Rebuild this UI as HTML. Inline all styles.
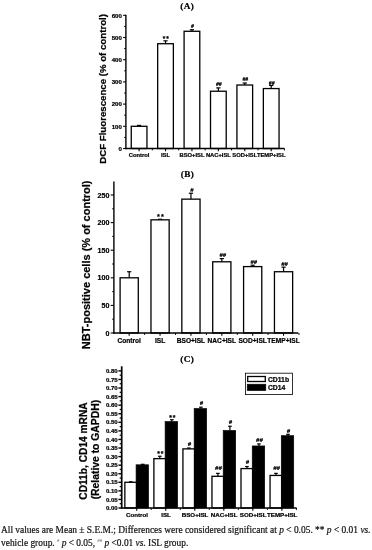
<!DOCTYPE html>
<html lang="en"><head><meta charset="utf-8"><title>Figure</title>
<style>
html,body{margin:0;padding:0;background:#fff;}
body{width:372px;height:550px;position:relative;overflow:hidden;}
.cap{position:absolute;left:1px;white-space:nowrap;font-family:"Liberation Serif", serif;font-size:9.42px;line-height:12px;color:#111;-webkit-text-stroke:0.2px #111;}
.cap i{font-style:italic}
.cap sup{font-size:5px;line-height:0;vertical-align:3.8px;color:#333;-webkit-text-stroke:0;}
</style></head><body>
<svg width="372" height="550" viewBox="0 0 372 550" style="position:absolute;left:0;top:0;filter:blur(0.35px)">
<text x="187.20" y="8.90" font-size="9.2" text-anchor="middle" font-weight="bold" font-family='"Liberation Serif", serif' stroke="#000" stroke-width="0.22" letter-spacing="0.4">(A)</text>
<line x1="139.10" y1="126.30" x2="139.10" y2="125.41" stroke="#000" stroke-width="1.2"/>
<line x1="137.00" y1="125.41" x2="141.20" y2="125.41" stroke="#000" stroke-width="1.2"/>
<rect x="131.25" y="126.30" width="15.70" height="22.20" fill="#fff" stroke="#000" stroke-width="1.3"/>
<line x1="165.52" y1="43.72" x2="165.52" y2="40.83" stroke="#000" stroke-width="1.2"/>
<line x1="163.42" y1="40.83" x2="167.62" y2="40.83" stroke="#000" stroke-width="1.2"/>
<rect x="157.67" y="43.72" width="15.70" height="104.78" fill="#fff" stroke="#000" stroke-width="1.3"/>
<text x="166.31" y="41.03" font-size="6.5" text-anchor="middle" font-weight="bold" font-family='"Liberation Sans", sans-serif' stroke="#000" stroke-width="0.22" letter-spacing="0.97">**</text>
<line x1="191.94" y1="31.28" x2="191.94" y2="29.73" stroke="#000" stroke-width="1.2"/>
<line x1="189.84" y1="29.73" x2="194.04" y2="29.73" stroke="#000" stroke-width="1.2"/>
<rect x="184.09" y="31.28" width="15.70" height="117.22" fill="#fff" stroke="#000" stroke-width="1.3"/>
<text x="192.44" y="28.23" font-size="5.1" text-anchor="middle" font-weight="bold" font-family='"Liberation Sans", sans-serif' stroke="#000" stroke-width="0.22" font-style="italic">#</text>
<line x1="218.36" y1="91.22" x2="218.36" y2="87.89" stroke="#000" stroke-width="1.2"/>
<line x1="216.26" y1="87.89" x2="220.46" y2="87.89" stroke="#000" stroke-width="1.2"/>
<rect x="210.51" y="91.22" width="15.70" height="57.28" fill="#fff" stroke="#000" stroke-width="1.3"/>
<text x="218.86" y="86.39" font-size="5.1" text-anchor="middle" font-weight="bold" font-family='"Liberation Sans", sans-serif' stroke="#000" stroke-width="0.22" font-style="italic">##</text>
<line x1="244.78" y1="85.01" x2="244.78" y2="83.01" stroke="#000" stroke-width="1.2"/>
<line x1="242.68" y1="83.01" x2="246.88" y2="83.01" stroke="#000" stroke-width="1.2"/>
<rect x="236.93" y="85.01" width="15.70" height="63.49" fill="#fff" stroke="#000" stroke-width="1.3"/>
<text x="245.28" y="80.71" font-size="5.1" text-anchor="middle" font-weight="bold" font-family='"Liberation Sans", sans-serif' stroke="#000" stroke-width="0.22" font-style="italic">##</text>
<line x1="271.20" y1="88.56" x2="271.20" y2="85.45" stroke="#000" stroke-width="1.2"/>
<line x1="269.10" y1="85.45" x2="273.30" y2="85.45" stroke="#000" stroke-width="1.2"/>
<rect x="263.35" y="88.56" width="15.70" height="59.94" fill="#fff" stroke="#000" stroke-width="1.3"/>
<text x="271.70" y="84.95" font-size="5.1" text-anchor="middle" font-weight="bold" font-family='"Liberation Sans", sans-serif' stroke="#000" stroke-width="0.22" font-style="italic">##</text>
<line x1="125.90" y1="14.80" x2="125.90" y2="149.15" stroke="#000" stroke-width="1.4"/>
<line x1="125.20" y1="148.50" x2="284.40" y2="148.50" stroke="#000" stroke-width="1.4"/>
<line x1="123.10" y1="148.50" x2="125.90" y2="148.50" stroke="#000" stroke-width="1.1"/>
<text x="121.80" y="150.70" font-size="6.1" text-anchor="end" font-weight="bold" font-family='"Liberation Sans", sans-serif' stroke="#000" stroke-width="0.22" >0</text>
<line x1="123.10" y1="126.30" x2="125.90" y2="126.30" stroke="#000" stroke-width="1.1"/>
<text x="121.80" y="128.50" font-size="6.1" text-anchor="end" font-weight="bold" font-family='"Liberation Sans", sans-serif' stroke="#000" stroke-width="0.22" >100</text>
<line x1="123.10" y1="104.10" x2="125.90" y2="104.10" stroke="#000" stroke-width="1.1"/>
<text x="121.80" y="106.30" font-size="6.1" text-anchor="end" font-weight="bold" font-family='"Liberation Sans", sans-serif' stroke="#000" stroke-width="0.22" >200</text>
<line x1="123.10" y1="81.90" x2="125.90" y2="81.90" stroke="#000" stroke-width="1.1"/>
<text x="121.80" y="84.10" font-size="6.1" text-anchor="end" font-weight="bold" font-family='"Liberation Sans", sans-serif' stroke="#000" stroke-width="0.22" >300</text>
<line x1="123.10" y1="59.70" x2="125.90" y2="59.70" stroke="#000" stroke-width="1.1"/>
<text x="121.80" y="61.90" font-size="6.1" text-anchor="end" font-weight="bold" font-family='"Liberation Sans", sans-serif' stroke="#000" stroke-width="0.22" >400</text>
<line x1="123.10" y1="37.50" x2="125.90" y2="37.50" stroke="#000" stroke-width="1.1"/>
<text x="121.80" y="39.70" font-size="6.1" text-anchor="end" font-weight="bold" font-family='"Liberation Sans", sans-serif' stroke="#000" stroke-width="0.22" >500</text>
<line x1="123.10" y1="15.30" x2="125.90" y2="15.30" stroke="#000" stroke-width="1.1"/>
<text x="121.80" y="17.50" font-size="6.1" text-anchor="end" font-weight="bold" font-family='"Liberation Sans", sans-serif' stroke="#000" stroke-width="0.22" >600</text>
<line x1="124.20" y1="137.40" x2="125.90" y2="137.40" stroke="#000" stroke-width="1.0"/>
<line x1="124.20" y1="115.20" x2="125.90" y2="115.20" stroke="#000" stroke-width="1.0"/>
<line x1="124.20" y1="93.00" x2="125.90" y2="93.00" stroke="#000" stroke-width="1.0"/>
<line x1="124.20" y1="70.80" x2="125.90" y2="70.80" stroke="#000" stroke-width="1.0"/>
<line x1="124.20" y1="48.60" x2="125.90" y2="48.60" stroke="#000" stroke-width="1.0"/>
<line x1="124.20" y1="26.40" x2="125.90" y2="26.40" stroke="#000" stroke-width="1.0"/>
<line x1="152.31" y1="148.50" x2="152.31" y2="150.40" stroke="#000" stroke-width="1.0"/>
<line x1="139.10" y1="148.50" x2="139.10" y2="151.30" stroke="#000" stroke-width="1.1"/>
<text x="139.10" y="157.40" font-size="5.8" text-anchor="middle" font-weight="bold" font-family='"Liberation Sans", sans-serif' stroke="#000" stroke-width="0.22" >Control</text>
<line x1="178.73" y1="148.50" x2="178.73" y2="150.40" stroke="#000" stroke-width="1.0"/>
<line x1="165.52" y1="148.50" x2="165.52" y2="151.30" stroke="#000" stroke-width="1.1"/>
<text x="165.52" y="157.40" font-size="5.8" text-anchor="middle" font-weight="bold" font-family='"Liberation Sans", sans-serif' stroke="#000" stroke-width="0.22" >ISL</text>
<line x1="205.15" y1="148.50" x2="205.15" y2="150.40" stroke="#000" stroke-width="1.0"/>
<line x1="191.94" y1="148.50" x2="191.94" y2="151.30" stroke="#000" stroke-width="1.1"/>
<text x="191.94" y="157.40" font-size="5.8" text-anchor="middle" font-weight="bold" font-family='"Liberation Sans", sans-serif' stroke="#000" stroke-width="0.22" >BSO+ISL</text>
<line x1="231.57" y1="148.50" x2="231.57" y2="150.40" stroke="#000" stroke-width="1.0"/>
<line x1="218.36" y1="148.50" x2="218.36" y2="151.30" stroke="#000" stroke-width="1.1"/>
<text x="218.36" y="157.40" font-size="5.8" text-anchor="middle" font-weight="bold" font-family='"Liberation Sans", sans-serif' stroke="#000" stroke-width="0.22" >NAC+ISL</text>
<line x1="257.99" y1="148.50" x2="257.99" y2="150.40" stroke="#000" stroke-width="1.0"/>
<line x1="244.78" y1="148.50" x2="244.78" y2="151.30" stroke="#000" stroke-width="1.1"/>
<text x="244.78" y="157.40" font-size="5.8" text-anchor="middle" font-weight="bold" font-family='"Liberation Sans", sans-serif' stroke="#000" stroke-width="0.22" >SOD+ISL</text>
<line x1="284.41" y1="148.50" x2="284.41" y2="150.40" stroke="#000" stroke-width="1.0"/>
<line x1="271.20" y1="148.50" x2="271.20" y2="151.30" stroke="#000" stroke-width="1.1"/>
<text x="271.20" y="157.40" font-size="5.8" text-anchor="middle" font-weight="bold" font-family='"Liberation Sans", sans-serif' stroke="#000" stroke-width="0.22" >TEMP+ISL</text>
<text x="106.10" y="88.90" font-size="9.67" text-anchor="middle" font-weight="bold" font-family='"Liberation Sans", sans-serif' stroke="#000" stroke-width="0.22" transform="rotate(-90 106.10 88.90)">DCF Fluorescence (% of control)</text>
<text x="187.40" y="176.60" font-size="9.2" text-anchor="middle" font-weight="bold" font-family='"Liberation Serif", serif' stroke="#000" stroke-width="0.22" letter-spacing="0.4">(B)</text>
<line x1="129.20" y1="277.80" x2="129.20" y2="271.73" stroke="#000" stroke-width="1.2"/>
<line x1="127.10" y1="271.73" x2="131.30" y2="271.73" stroke="#000" stroke-width="1.2"/>
<rect x="120.10" y="277.80" width="18.20" height="55.20" fill="#fff" stroke="#000" stroke-width="1.3"/>
<line x1="160.07" y1="219.84" x2="160.07" y2="219.29" stroke="#000" stroke-width="1.2"/>
<line x1="157.97" y1="219.29" x2="162.17" y2="219.29" stroke="#000" stroke-width="1.2"/>
<rect x="150.97" y="219.84" width="18.20" height="113.16" fill="#fff" stroke="#000" stroke-width="1.3"/>
<text x="160.92" y="219.49" font-size="7.3" text-anchor="middle" font-weight="bold" font-family='"Liberation Sans", sans-serif' stroke="#000" stroke-width="0.22" letter-spacing="1.09">**</text>
<line x1="190.94" y1="199.14" x2="190.94" y2="193.23" stroke="#000" stroke-width="1.2"/>
<line x1="188.84" y1="193.23" x2="193.04" y2="193.23" stroke="#000" stroke-width="1.2"/>
<rect x="181.84" y="199.14" width="18.20" height="133.86" fill="#fff" stroke="#000" stroke-width="1.3"/>
<text x="191.94" y="192.23" font-size="5.8" text-anchor="middle" font-weight="bold" font-family='"Liberation Sans", sans-serif' stroke="#000" stroke-width="0.22" font-style="italic">#</text>
<line x1="221.81" y1="261.79" x2="221.81" y2="258.59" stroke="#000" stroke-width="1.2"/>
<line x1="219.71" y1="258.59" x2="223.91" y2="258.59" stroke="#000" stroke-width="1.2"/>
<rect x="212.71" y="261.79" width="18.20" height="71.21" fill="#fff" stroke="#000" stroke-width="1.3"/>
<text x="222.81" y="257.09" font-size="5.8" text-anchor="middle" font-weight="bold" font-family='"Liberation Sans", sans-serif' stroke="#000" stroke-width="0.22" font-style="italic">##</text>
<line x1="252.68" y1="266.59" x2="252.68" y2="265.21" stroke="#000" stroke-width="1.2"/>
<line x1="250.58" y1="265.21" x2="254.78" y2="265.21" stroke="#000" stroke-width="1.2"/>
<rect x="243.58" y="266.59" width="18.20" height="66.41" fill="#fff" stroke="#000" stroke-width="1.3"/>
<text x="253.68" y="264.11" font-size="5.8" text-anchor="middle" font-weight="bold" font-family='"Liberation Sans", sans-serif' stroke="#000" stroke-width="0.22" font-style="italic">##</text>
<line x1="283.55" y1="271.73" x2="283.55" y2="267.15" stroke="#000" stroke-width="1.2"/>
<line x1="281.45" y1="267.15" x2="285.65" y2="267.15" stroke="#000" stroke-width="1.2"/>
<rect x="274.45" y="271.73" width="18.20" height="61.27" fill="#fff" stroke="#000" stroke-width="1.3"/>
<text x="284.55" y="266.35" font-size="5.8" text-anchor="middle" font-weight="bold" font-family='"Liberation Sans", sans-serif' stroke="#000" stroke-width="0.22" font-style="italic">##</text>
<line x1="113.90" y1="181.40" x2="113.90" y2="333.65" stroke="#000" stroke-width="1.4"/>
<line x1="113.20" y1="333.00" x2="298.30" y2="333.00" stroke="#000" stroke-width="1.4"/>
<line x1="110.70" y1="333.00" x2="113.90" y2="333.00" stroke="#000" stroke-width="1.1"/>
<text x="109.40" y="335.56" font-size="7.1" text-anchor="end" font-weight="bold" font-family='"Liberation Sans", sans-serif' stroke="#000" stroke-width="0.22" >0</text>
<line x1="110.70" y1="305.40" x2="113.90" y2="305.40" stroke="#000" stroke-width="1.1"/>
<text x="109.40" y="307.96" font-size="7.1" text-anchor="end" font-weight="bold" font-family='"Liberation Sans", sans-serif' stroke="#000" stroke-width="0.22" >50</text>
<line x1="110.70" y1="277.80" x2="113.90" y2="277.80" stroke="#000" stroke-width="1.1"/>
<text x="109.40" y="280.36" font-size="7.1" text-anchor="end" font-weight="bold" font-family='"Liberation Sans", sans-serif' stroke="#000" stroke-width="0.22" >100</text>
<line x1="110.70" y1="250.20" x2="113.90" y2="250.20" stroke="#000" stroke-width="1.1"/>
<text x="109.40" y="252.76" font-size="7.1" text-anchor="end" font-weight="bold" font-family='"Liberation Sans", sans-serif' stroke="#000" stroke-width="0.22" >150</text>
<line x1="110.70" y1="222.60" x2="113.90" y2="222.60" stroke="#000" stroke-width="1.1"/>
<text x="109.40" y="225.16" font-size="7.1" text-anchor="end" font-weight="bold" font-family='"Liberation Sans", sans-serif' stroke="#000" stroke-width="0.22" >200</text>
<line x1="110.70" y1="195.00" x2="113.90" y2="195.00" stroke="#000" stroke-width="1.1"/>
<text x="109.40" y="197.56" font-size="7.1" text-anchor="end" font-weight="bold" font-family='"Liberation Sans", sans-serif' stroke="#000" stroke-width="0.22" >250</text>
<line x1="112.20" y1="319.20" x2="113.90" y2="319.20" stroke="#000" stroke-width="1.0"/>
<line x1="112.20" y1="291.60" x2="113.90" y2="291.60" stroke="#000" stroke-width="1.0"/>
<line x1="112.20" y1="264.00" x2="113.90" y2="264.00" stroke="#000" stroke-width="1.0"/>
<line x1="112.20" y1="236.40" x2="113.90" y2="236.40" stroke="#000" stroke-width="1.0"/>
<line x1="112.20" y1="208.80" x2="113.90" y2="208.80" stroke="#000" stroke-width="1.0"/>
<line x1="144.63" y1="333.00" x2="144.63" y2="334.90" stroke="#000" stroke-width="1.0"/>
<line x1="129.20" y1="333.00" x2="129.20" y2="335.80" stroke="#000" stroke-width="1.1"/>
<text x="129.20" y="343.00" font-size="6.6" text-anchor="middle" font-weight="bold" font-family='"Liberation Sans", sans-serif' stroke="#000" stroke-width="0.22" >Control</text>
<line x1="175.50" y1="333.00" x2="175.50" y2="334.90" stroke="#000" stroke-width="1.0"/>
<line x1="160.07" y1="333.00" x2="160.07" y2="335.80" stroke="#000" stroke-width="1.1"/>
<text x="160.07" y="343.00" font-size="6.6" text-anchor="middle" font-weight="bold" font-family='"Liberation Sans", sans-serif' stroke="#000" stroke-width="0.22" >ISL</text>
<line x1="206.38" y1="333.00" x2="206.38" y2="334.90" stroke="#000" stroke-width="1.0"/>
<line x1="190.94" y1="333.00" x2="190.94" y2="335.80" stroke="#000" stroke-width="1.1"/>
<text x="190.94" y="343.00" font-size="6.6" text-anchor="middle" font-weight="bold" font-family='"Liberation Sans", sans-serif' stroke="#000" stroke-width="0.22" >BSO+ISL</text>
<line x1="237.25" y1="333.00" x2="237.25" y2="334.90" stroke="#000" stroke-width="1.0"/>
<line x1="221.81" y1="333.00" x2="221.81" y2="335.80" stroke="#000" stroke-width="1.1"/>
<text x="221.81" y="343.00" font-size="6.6" text-anchor="middle" font-weight="bold" font-family='"Liberation Sans", sans-serif' stroke="#000" stroke-width="0.22" >NAC+ISL</text>
<line x1="268.12" y1="333.00" x2="268.12" y2="334.90" stroke="#000" stroke-width="1.0"/>
<line x1="252.68" y1="333.00" x2="252.68" y2="335.80" stroke="#000" stroke-width="1.1"/>
<text x="252.68" y="343.00" font-size="6.6" text-anchor="middle" font-weight="bold" font-family='"Liberation Sans", sans-serif' stroke="#000" stroke-width="0.22" >SOD+ISL</text>
<line x1="298.98" y1="333.00" x2="298.98" y2="334.90" stroke="#000" stroke-width="1.0"/>
<line x1="283.55" y1="333.00" x2="283.55" y2="335.80" stroke="#000" stroke-width="1.1"/>
<text x="283.55" y="343.00" font-size="6.6" text-anchor="middle" font-weight="bold" font-family='"Liberation Sans", sans-serif' stroke="#000" stroke-width="0.22" >TEMP+ISL</text>
<text x="90.40" y="264.80" font-size="11.0" text-anchor="middle" font-weight="bold" font-family='"Liberation Sans", sans-serif' stroke="#000" stroke-width="0.22" transform="rotate(-90 90.40 264.80)">NBT-positive cells (% of control)</text>
<text x="187.20" y="361.80" font-size="9.2" text-anchor="middle" font-weight="bold" font-family='"Liberation Serif", serif' stroke="#000" stroke-width="0.22" letter-spacing="0.4">(C)</text>
<line x1="130.78" y1="482.29" x2="130.78" y2="481.78" stroke="#000" stroke-width="1.2"/>
<line x1="128.97" y1="481.78" x2="132.58" y2="481.78" stroke="#000" stroke-width="1.2"/>
<rect x="124.85" y="482.29" width="11.85" height="25.71" fill="#fff" stroke="#000" stroke-width="1.3"/>
<line x1="142.80" y1="464.81" x2="142.80" y2="464.30" stroke="#000" stroke-width="1.2"/>
<line x1="141.00" y1="464.30" x2="144.60" y2="464.30" stroke="#000" stroke-width="1.2"/>
<rect x="136.10" y="464.81" width="12.40" height="43.19" fill="#000" stroke="#000" stroke-width="0.7"/>
<line x1="159.81" y1="458.64" x2="159.81" y2="456.24" stroke="#000" stroke-width="1.2"/>
<line x1="158.01" y1="456.24" x2="161.62" y2="456.24" stroke="#000" stroke-width="1.2"/>
<rect x="153.89" y="458.64" width="11.85" height="49.36" fill="#fff" stroke="#000" stroke-width="1.3"/>
<text x="160.82" y="455.74" font-size="6.8" text-anchor="middle" font-weight="bold" font-family='"Liberation Sans", sans-serif' stroke="#000" stroke-width="0.22" letter-spacing="1.02">**</text>
<line x1="171.84" y1="421.63" x2="171.84" y2="419.74" stroke="#000" stroke-width="1.2"/>
<line x1="170.04" y1="419.74" x2="173.64" y2="419.74" stroke="#000" stroke-width="1.2"/>
<rect x="165.14" y="421.63" width="12.40" height="86.37" fill="#000" stroke="#000" stroke-width="0.7"/>
<text x="172.85" y="419.64" font-size="6.8" text-anchor="middle" font-weight="bold" font-family='"Liberation Sans", sans-serif' stroke="#000" stroke-width="0.22" letter-spacing="1.02">**</text>
<line x1="188.85" y1="448.88" x2="188.85" y2="448.02" stroke="#000" stroke-width="1.2"/>
<line x1="187.05" y1="448.02" x2="190.66" y2="448.02" stroke="#000" stroke-width="1.2"/>
<rect x="182.93" y="448.88" width="11.85" height="59.12" fill="#fff" stroke="#000" stroke-width="1.3"/>
<text x="189.35" y="445.82" font-size="6.0" text-anchor="middle" font-weight="bold" font-family='"Liberation Sans", sans-serif' stroke="#000" stroke-width="0.22" font-style="italic">#</text>
<line x1="200.88" y1="408.60" x2="200.88" y2="407.23" stroke="#000" stroke-width="1.2"/>
<line x1="199.08" y1="407.23" x2="202.68" y2="407.23" stroke="#000" stroke-width="1.2"/>
<rect x="194.18" y="408.60" width="12.40" height="99.40" fill="#000" stroke="#000" stroke-width="0.7"/>
<text x="201.38" y="405.43" font-size="6.0" text-anchor="middle" font-weight="bold" font-family='"Liberation Sans", sans-serif' stroke="#000" stroke-width="0.22" font-style="italic">#</text>
<line x1="217.90" y1="476.30" x2="217.90" y2="473.38" stroke="#000" stroke-width="1.2"/>
<line x1="216.09" y1="473.38" x2="219.70" y2="473.38" stroke="#000" stroke-width="1.2"/>
<rect x="211.97" y="476.30" width="11.85" height="31.70" fill="#fff" stroke="#000" stroke-width="1.3"/>
<text x="218.40" y="470.38" font-size="6.0" text-anchor="middle" font-weight="bold" font-family='"Liberation Sans", sans-serif' stroke="#000" stroke-width="0.22" font-style="italic">##</text>
<line x1="229.92" y1="430.54" x2="229.92" y2="426.25" stroke="#000" stroke-width="1.2"/>
<line x1="228.12" y1="426.25" x2="231.72" y2="426.25" stroke="#000" stroke-width="1.2"/>
<rect x="223.22" y="430.54" width="12.40" height="77.46" fill="#000" stroke="#000" stroke-width="0.7"/>
<text x="230.42" y="424.45" font-size="6.0" text-anchor="middle" font-weight="bold" font-family='"Liberation Sans", sans-serif' stroke="#000" stroke-width="0.22" font-style="italic">#</text>
<line x1="246.94" y1="468.58" x2="246.94" y2="466.53" stroke="#000" stroke-width="1.2"/>
<line x1="245.13" y1="466.53" x2="248.74" y2="466.53" stroke="#000" stroke-width="1.2"/>
<rect x="241.01" y="468.58" width="11.85" height="39.42" fill="#fff" stroke="#000" stroke-width="1.3"/>
<text x="247.44" y="464.33" font-size="6.0" text-anchor="middle" font-weight="bold" font-family='"Liberation Sans", sans-serif' stroke="#000" stroke-width="0.22" font-style="italic">#</text>
<line x1="258.96" y1="445.96" x2="258.96" y2="443.91" stroke="#000" stroke-width="1.2"/>
<line x1="257.16" y1="443.91" x2="260.76" y2="443.91" stroke="#000" stroke-width="1.2"/>
<rect x="252.26" y="445.96" width="12.40" height="62.04" fill="#000" stroke="#000" stroke-width="0.7"/>
<text x="259.46" y="442.11" font-size="6.0" text-anchor="middle" font-weight="bold" font-family='"Liberation Sans", sans-serif' stroke="#000" stroke-width="0.22" font-style="italic">##</text>
<line x1="275.97" y1="475.44" x2="275.97" y2="473.38" stroke="#000" stroke-width="1.2"/>
<line x1="274.17" y1="473.38" x2="277.77" y2="473.38" stroke="#000" stroke-width="1.2"/>
<rect x="270.05" y="475.44" width="11.85" height="32.56" fill="#fff" stroke="#000" stroke-width="1.3"/>
<text x="276.47" y="470.38" font-size="6.0" text-anchor="middle" font-weight="bold" font-family='"Liberation Sans", sans-serif' stroke="#000" stroke-width="0.22" font-style="italic">##</text>
<line x1="288.00" y1="435.68" x2="288.00" y2="434.31" stroke="#000" stroke-width="1.2"/>
<line x1="286.20" y1="434.31" x2="289.80" y2="434.31" stroke="#000" stroke-width="1.2"/>
<rect x="281.30" y="435.68" width="12.40" height="72.32" fill="#000" stroke="#000" stroke-width="0.7"/>
<text x="288.50" y="432.51" font-size="6.0" text-anchor="middle" font-weight="bold" font-family='"Liberation Sans", sans-serif' stroke="#000" stroke-width="0.22" font-style="italic">#</text>
<line x1="121.70" y1="366.30" x2="121.70" y2="508.65" stroke="#000" stroke-width="1.7"/>
<line x1="120.90" y1="508.00" x2="296.60" y2="508.00" stroke="#000" stroke-width="1.4"/>
<line x1="118.40" y1="508.00" x2="121.60" y2="508.00" stroke="#000" stroke-width="1.4"/>
<text x="117.60" y="510.15" font-size="6.0" text-anchor="end" font-weight="bold" font-family='"Liberation Sans", sans-serif' stroke="#000" stroke-width="0.22" >0.00</text>
<line x1="119.70" y1="503.72" x2="121.60" y2="503.72" stroke="#000" stroke-width="1.2"/>
<line x1="118.40" y1="499.43" x2="121.60" y2="499.43" stroke="#000" stroke-width="1.4"/>
<text x="117.60" y="501.58" font-size="6.0" text-anchor="end" font-weight="bold" font-family='"Liberation Sans", sans-serif' stroke="#000" stroke-width="0.22" >0.05</text>
<line x1="119.70" y1="495.15" x2="121.60" y2="495.15" stroke="#000" stroke-width="1.2"/>
<line x1="118.40" y1="490.86" x2="121.60" y2="490.86" stroke="#000" stroke-width="1.4"/>
<text x="117.60" y="493.01" font-size="6.0" text-anchor="end" font-weight="bold" font-family='"Liberation Sans", sans-serif' stroke="#000" stroke-width="0.22" >0.10</text>
<line x1="119.70" y1="486.58" x2="121.60" y2="486.58" stroke="#000" stroke-width="1.2"/>
<line x1="118.40" y1="482.29" x2="121.60" y2="482.29" stroke="#000" stroke-width="1.4"/>
<text x="117.60" y="484.44" font-size="6.0" text-anchor="end" font-weight="bold" font-family='"Liberation Sans", sans-serif' stroke="#000" stroke-width="0.22" >0.15</text>
<line x1="119.70" y1="478.01" x2="121.60" y2="478.01" stroke="#000" stroke-width="1.2"/>
<line x1="118.40" y1="473.73" x2="121.60" y2="473.73" stroke="#000" stroke-width="1.4"/>
<text x="117.60" y="475.88" font-size="6.0" text-anchor="end" font-weight="bold" font-family='"Liberation Sans", sans-serif' stroke="#000" stroke-width="0.22" >0.20</text>
<line x1="119.70" y1="469.44" x2="121.60" y2="469.44" stroke="#000" stroke-width="1.2"/>
<line x1="118.40" y1="465.16" x2="121.60" y2="465.16" stroke="#000" stroke-width="1.4"/>
<text x="117.60" y="467.31" font-size="6.0" text-anchor="end" font-weight="bold" font-family='"Liberation Sans", sans-serif' stroke="#000" stroke-width="0.22" >0.25</text>
<line x1="119.70" y1="460.87" x2="121.60" y2="460.87" stroke="#000" stroke-width="1.2"/>
<line x1="118.40" y1="456.59" x2="121.60" y2="456.59" stroke="#000" stroke-width="1.4"/>
<text x="117.60" y="458.74" font-size="6.0" text-anchor="end" font-weight="bold" font-family='"Liberation Sans", sans-serif' stroke="#000" stroke-width="0.22" >0.30</text>
<line x1="119.70" y1="452.30" x2="121.60" y2="452.30" stroke="#000" stroke-width="1.2"/>
<line x1="118.40" y1="448.02" x2="121.60" y2="448.02" stroke="#000" stroke-width="1.4"/>
<text x="117.60" y="450.17" font-size="6.0" text-anchor="end" font-weight="bold" font-family='"Liberation Sans", sans-serif' stroke="#000" stroke-width="0.22" >0.35</text>
<line x1="119.70" y1="443.73" x2="121.60" y2="443.73" stroke="#000" stroke-width="1.2"/>
<line x1="118.40" y1="439.45" x2="121.60" y2="439.45" stroke="#000" stroke-width="1.4"/>
<text x="117.60" y="441.60" font-size="6.0" text-anchor="end" font-weight="bold" font-family='"Liberation Sans", sans-serif' stroke="#000" stroke-width="0.22" >0.40</text>
<line x1="119.70" y1="435.17" x2="121.60" y2="435.17" stroke="#000" stroke-width="1.2"/>
<line x1="118.40" y1="430.88" x2="121.60" y2="430.88" stroke="#000" stroke-width="1.4"/>
<text x="117.60" y="433.03" font-size="6.0" text-anchor="end" font-weight="bold" font-family='"Liberation Sans", sans-serif' stroke="#000" stroke-width="0.22" >0.45</text>
<line x1="119.70" y1="426.60" x2="121.60" y2="426.60" stroke="#000" stroke-width="1.2"/>
<line x1="118.40" y1="422.31" x2="121.60" y2="422.31" stroke="#000" stroke-width="1.4"/>
<text x="117.60" y="424.46" font-size="6.0" text-anchor="end" font-weight="bold" font-family='"Liberation Sans", sans-serif' stroke="#000" stroke-width="0.22" >0.50</text>
<line x1="119.70" y1="418.03" x2="121.60" y2="418.03" stroke="#000" stroke-width="1.2"/>
<line x1="118.40" y1="413.74" x2="121.60" y2="413.74" stroke="#000" stroke-width="1.4"/>
<text x="117.60" y="415.89" font-size="6.0" text-anchor="end" font-weight="bold" font-family='"Liberation Sans", sans-serif' stroke="#000" stroke-width="0.22" >0.55</text>
<line x1="119.70" y1="409.46" x2="121.60" y2="409.46" stroke="#000" stroke-width="1.2"/>
<line x1="118.40" y1="405.17" x2="121.60" y2="405.17" stroke="#000" stroke-width="1.4"/>
<text x="117.60" y="407.32" font-size="6.0" text-anchor="end" font-weight="bold" font-family='"Liberation Sans", sans-serif' stroke="#000" stroke-width="0.22" >0.60</text>
<line x1="119.70" y1="400.89" x2="121.60" y2="400.89" stroke="#000" stroke-width="1.2"/>
<line x1="118.40" y1="396.61" x2="121.60" y2="396.61" stroke="#000" stroke-width="1.4"/>
<text x="117.60" y="398.76" font-size="6.0" text-anchor="end" font-weight="bold" font-family='"Liberation Sans", sans-serif' stroke="#000" stroke-width="0.22" >0.65</text>
<line x1="119.70" y1="392.32" x2="121.60" y2="392.32" stroke="#000" stroke-width="1.2"/>
<line x1="118.40" y1="388.04" x2="121.60" y2="388.04" stroke="#000" stroke-width="1.4"/>
<text x="117.60" y="390.19" font-size="6.0" text-anchor="end" font-weight="bold" font-family='"Liberation Sans", sans-serif' stroke="#000" stroke-width="0.22" >0.70</text>
<line x1="119.70" y1="383.75" x2="121.60" y2="383.75" stroke="#000" stroke-width="1.2"/>
<line x1="118.40" y1="379.47" x2="121.60" y2="379.47" stroke="#000" stroke-width="1.4"/>
<text x="117.60" y="381.62" font-size="6.0" text-anchor="end" font-weight="bold" font-family='"Liberation Sans", sans-serif' stroke="#000" stroke-width="0.22" >0.75</text>
<line x1="119.70" y1="375.18" x2="121.60" y2="375.18" stroke="#000" stroke-width="1.2"/>
<line x1="118.40" y1="370.90" x2="121.60" y2="370.90" stroke="#000" stroke-width="1.4"/>
<text x="117.60" y="373.05" font-size="6.0" text-anchor="end" font-weight="bold" font-family='"Liberation Sans", sans-serif' stroke="#000" stroke-width="0.22" >0.80</text>
<line x1="151.22" y1="508.00" x2="151.22" y2="509.90" stroke="#000" stroke-width="1.0"/>
<line x1="136.70" y1="508.00" x2="136.70" y2="510.80" stroke="#000" stroke-width="1.1"/>
<text x="137.00" y="517.00" font-size="6.2" text-anchor="middle" font-weight="bold" font-family='"Liberation Sans", sans-serif' stroke="#000" stroke-width="0.22" >Control</text>
<line x1="180.26" y1="508.00" x2="180.26" y2="509.90" stroke="#000" stroke-width="1.0"/>
<line x1="165.74" y1="508.00" x2="165.74" y2="510.80" stroke="#000" stroke-width="1.1"/>
<text x="166.04" y="517.00" font-size="6.2" text-anchor="middle" font-weight="bold" font-family='"Liberation Sans", sans-serif' stroke="#000" stroke-width="0.22" >ISL</text>
<line x1="209.30" y1="508.00" x2="209.30" y2="509.90" stroke="#000" stroke-width="1.0"/>
<line x1="194.78" y1="508.00" x2="194.78" y2="510.80" stroke="#000" stroke-width="1.1"/>
<text x="195.08" y="517.00" font-size="6.2" text-anchor="middle" font-weight="bold" font-family='"Liberation Sans", sans-serif' stroke="#000" stroke-width="0.22" >BSO+ISL</text>
<line x1="238.34" y1="508.00" x2="238.34" y2="509.90" stroke="#000" stroke-width="1.0"/>
<line x1="223.82" y1="508.00" x2="223.82" y2="510.80" stroke="#000" stroke-width="1.1"/>
<text x="224.12" y="517.00" font-size="6.2" text-anchor="middle" font-weight="bold" font-family='"Liberation Sans", sans-serif' stroke="#000" stroke-width="0.22" >NAC+ISL</text>
<line x1="267.38" y1="508.00" x2="267.38" y2="509.90" stroke="#000" stroke-width="1.0"/>
<line x1="252.86" y1="508.00" x2="252.86" y2="510.80" stroke="#000" stroke-width="1.1"/>
<text x="253.16" y="517.00" font-size="6.2" text-anchor="middle" font-weight="bold" font-family='"Liberation Sans", sans-serif' stroke="#000" stroke-width="0.22" >SOD+ISL</text>
<line x1="296.42" y1="508.00" x2="296.42" y2="509.90" stroke="#000" stroke-width="1.0"/>
<line x1="281.90" y1="508.00" x2="281.90" y2="510.80" stroke="#000" stroke-width="1.1"/>
<text x="282.20" y="517.00" font-size="6.2" text-anchor="middle" font-weight="bold" font-family='"Liberation Sans", sans-serif' stroke="#000" stroke-width="0.22" >TEMP+ISL</text>
<text x="86.70" y="451.00" font-size="10.2" text-anchor="middle" font-weight="bold" font-family='"Liberation Sans", sans-serif' stroke="#000" stroke-width="0.22" transform="rotate(-90 86.7 451.00)">CD11b, CD14 mRNA</text>
<text x="98.70" y="449.60" font-size="10.35" text-anchor="middle" font-weight="bold" font-family='"Liberation Sans", sans-serif' stroke="#000" stroke-width="0.22" transform="rotate(-90 98.7 449.60)">(Relative to GAPDH)</text>
<rect x="245.40" y="373.20" width="47.00" height="21.40" fill="#fff" stroke="#000" stroke-width="0.8"/>
<rect x="247.70" y="376.50" width="17.60" height="5.00" fill="#fff" stroke="#000" stroke-width="1.3"/>
<rect x="247.20" y="384.20" width="18.60" height="6.40" fill="#000" stroke="#000" stroke-width="0.6"/>
<text x="267.90" y="381.70" font-size="6.8" text-anchor="start" font-weight="bold" font-family='"Liberation Sans", sans-serif' stroke="#000" stroke-width="0.22" >CD11b</text>
<text x="267.90" y="390.40" font-size="6.8" text-anchor="start" font-weight="bold" font-family='"Liberation Sans", sans-serif' stroke="#000" stroke-width="0.22" >CD14</text>
</svg>
<div class="cap" id="c1" style="top:524.2px;">All values are Mean ± S.E.M.; Differences were considered significant at <i>p</i> &lt; 0.05. ** <i>p</i> &lt; 0.01 <i>vs.</i></div>
<div class="cap" id="c2" style="top:537px;word-spacing:-0.1px;">vehicle group. <sup>#</sup> <i>p</i> &lt; 0.05, <sup>##</sup> <i>p</i> &lt;0.01 <i>vs.</i> ISL group.</div>
</body></html>
